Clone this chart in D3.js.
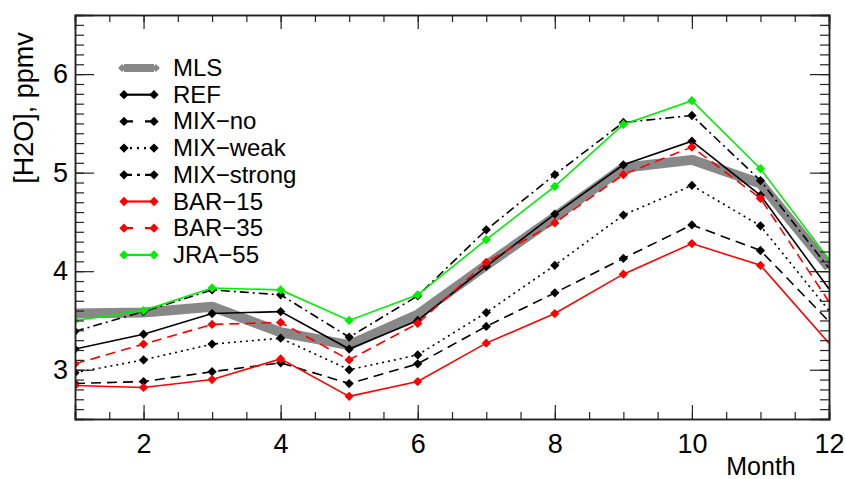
<!DOCTYPE html>
<html>
<head>
<meta charset="utf-8">
<script src="https://cdn.jsdelivr.net/npm/d3@7"></script>
<style>
  body { margin: 0; background: #fff; }
  svg text { font-family: "Liberation Sans", Arial, Helvetica, sans-serif; fill: #000; }
</style>
</head>
<body>
<svg id="chart" width="845" height="479"></svg>
<script>
const months = [1, 2, 3, 4, 5, 6, 7, 8, 9, 10, 11, 12];

const mls       = [3.57, 3.58, 3.64, 3.38, 3.25, 3.56, 4.06, 4.55, 5.05, 5.13, 4.89, 4.04];
const ref       = [3.21, 3.36, 3.57, 3.59, 3.21, 3.50, 4.05, 4.58, 5.08, 5.32, 4.77, 3.82];
const mixNo     = [2.86, 2.88, 2.98, 3.07, 2.86, 3.06, 3.44, 3.78, 4.13, 4.47, 4.21, 3.49];
const mixWeak   = [2.97, 3.10, 3.26, 3.32, 3.00, 3.15, 3.58, 4.06, 4.57, 4.87, 4.46, 3.60];
const mixStrong = [3.39, 3.59, 3.81, 3.76, 3.33, 3.75, 4.42, 4.98, 5.51, 5.58, 4.92, 4.03];
const bar15     = [2.84, 2.82, 2.90, 3.11, 2.73, 2.88, 3.27, 3.57, 3.97, 4.28, 4.06, 3.27];
const bar35     = [3.06, 3.26, 3.46, 3.48, 3.10, 3.47, 4.09, 4.49, 4.98, 5.26, 4.74, 3.69];
const jra55     = [3.50, 3.60, 3.83, 3.81, 3.50, 3.76, 4.32, 4.86, 5.49, 5.73, 5.04, 4.12];

const seriesNames = ['MLS', 'REF', 'MIX\u2212no', 'MIX\u2212weak', 'MIX\u2212strong', 'BAR\u221215', 'BAR\u221235', 'JRA\u221255'];
const seriesValues = [mls, ref, mixNo, mixWeak, mixStrong, bar15, bar35, jra55];

const xTickLabels = [2, 4, 6, 8, 10, 12];
const yTickLabels = [3, 4, 5, 6];

// styles per series (same order as seriesNames); legDash = dash used in the short legend sample
const styles = [
  {color: '#888888', width: 10, dash: null, legDash: null, marker: false},
  {color: '#000000', width: 1.6, dash: null, legDash: null, marker: true},
  {color: '#000000', width: 1.6, dash: '10,6', legDash: '9,12,9', marker: true},
  {color: '#000000', width: 1.6, dash: '2,4', legDash: '0,6,2,5,2,5,2,8', marker: true},
  {color: '#000000', width: 1.6, dash: '9,4,2,4', legDash: '8,5,3,5,9', marker: true},
  {color: '#ff0000', width: 1.6, dash: null, legDash: null, marker: true},
  {color: '#ff0000', width: 1.6, dash: '10,6', legDash: '9,12,9', marker: true},
  {color: '#00ee00', width: 1.6, dash: null, legDash: null, marker: true}
];

const W = 845, H = 479;
const margin = {left: 75, top: 15, right: 16, bottom: 60};
const pw = W - margin.left - margin.right, ph = H - margin.top - margin.bottom;

const svg = d3.select('svg#chart');
const x = d3.scaleLinear().domain([1, 12]).range([margin.left, margin.left + pw]);
const y = d3.scaleLinear().domain([2.5, 6.6]).range([margin.top + ph, margin.top]);

svg.append('defs').append('clipPath').attr('id', 'plotclip')
    .append('rect')
    .attr('x', margin.left).attr('y', margin.top)
    .attr('width', pw).attr('height', ph);

const data = seriesNames.map((name, i) => ({
    name, style: styles[i],
    points: months.map((m, j) => ({m, v: seriesValues[i][j]}))
}));

const line = d3.line().x(d => x(d.m)).y(d => y(d.v));
const diamond = d3.symbol().type(d3.symbolDiamond2).size(55);

const plot = svg.append('g').attr('clip-path', 'url(#plotclip)');
data.forEach(s => {
    const g = plot.append('g');
    g.append('path')
	.attr('d', line(s.points))
	.attr('fill', 'none')
	.attr('stroke', s.style.color)
	.attr('stroke-width', s.style.width)
	.attr('stroke-dasharray', s.style.dash)
	.attr('stroke-linejoin', s.style.marker ? 'miter' : 'bevel');
    if(s.style.marker) {
	g.selectAll('path.mk').data(s.points.filter(p => p.m < 12))
	    .join('path')
	    .attr('class', 'mk')
	    .attr('d', diamond)
	    .attr('transform', p => `translate(${x(p.m)},${y(p.v)})`)
	    .attr('fill', s.style.color);
    }
});

// axes: bottom, top, left, right
const xMinor = d3.range(1, 12.01, 0.5);
const yMinor = d3.range(2.6, 6.55, 0.1).map(v => Math.round(v * 10) / 10);

svg.append('g').attr('transform', `translate(0,${margin.top + ph})`)
    .call(d3.axisBottom(x).tickValues(xMinor).tickSize(-7).tickFormat(''));
svg.append('g').attr('transform', `translate(0,${margin.top + ph})`)
    .call(d3.axisBottom(x).tickValues(xTickLabels).tickSize(-14).tickPadding(15).tickFormat(d3.format('d')));
svg.append('g').attr('transform', `translate(0,${margin.top})`)
    .call(d3.axisTop(x).tickValues(xMinor).tickSize(-7).tickFormat(''));
svg.append('g').attr('transform', `translate(0,${margin.top})`)
    .call(d3.axisTop(x).tickValues(xTickLabels).tickSize(-14).tickFormat(''));

svg.append('g').attr('transform', `translate(${margin.left},0)`)
    .call(d3.axisLeft(y).tickValues(yMinor).tickSize(-9).tickFormat(''));
svg.append('g').attr('transform', `translate(${margin.left},0)`)
    .call(d3.axisLeft(y).tickValues(yTickLabels).tickSize(-19).tickPadding(7).tickFormat(d3.format('d')));
svg.append('g').attr('transform', `translate(${margin.left + pw},0)`)
    .call(d3.axisRight(y).tickValues(yMinor).tickSize(-9).tickFormat(''));
svg.append('g').attr('transform', `translate(${margin.left + pw},0)`)
    .call(d3.axisRight(y).tickValues(yTickLabels).tickSize(-19).tickFormat(''));

svg.selectAll('.domain').attr('stroke', '#222').attr('stroke-width', 1.5);
svg.selectAll('.tick line').attr('stroke', '#222').attr('stroke-width', 1.2);
svg.selectAll('.tick text')
    .style('font-family', '"Liberation Sans", Arial, sans-serif')
    .style('font-size', '27px').attr('fill', '#000');

// axis titles
svg.append('text')
    .attr('x', 761).attr('y', 475)
    .attr('text-anchor', 'middle')
    .style('font-size', '25px')
    .text('Month');
svg.append('text')
    .attr('transform', 'translate(33,108) rotate(-90)')
    .attr('text-anchor', 'middle')
    .style('font-size', '27px')
    .text('[H2O], ppmv');

// legend
const legend = svg.append('g');
data.forEach((s, i) => {
    const ly = 68 + i * 26.7;
    const g = legend.append('g').attr('transform', `translate(0,${ly})`);
    g.append('line')
	.attr('x1', 124).attr('x2', 154).attr('y1', 0).attr('y2', 0)
	.attr('stroke', s.style.color)
	.attr('stroke-width', s.style.marker ? s.style.width + 0.6 : 8)
	.attr('stroke-dasharray', s.style.legDash);
    if(s.style.marker) {
	[124, 154].forEach(cx => g.append('path')
	    .attr('d', diamond)
	    .attr('transform', `translate(${cx},0)`)
	    .attr('fill', s.style.color));
    } else {
	[122, 156].forEach(cx => g.append('path')
	    .attr('d', d3.symbol().type(d3.symbolDiamond2).size(40))
	    .attr('transform', `translate(${cx},0)`)
	    .attr('fill', s.style.color));
    }
    g.append('text')
	.attr('x', 173).attr('y', 8)
	.style('font-size', '24px')
	.text(s.name);
});
</script>
</body>
</html>
